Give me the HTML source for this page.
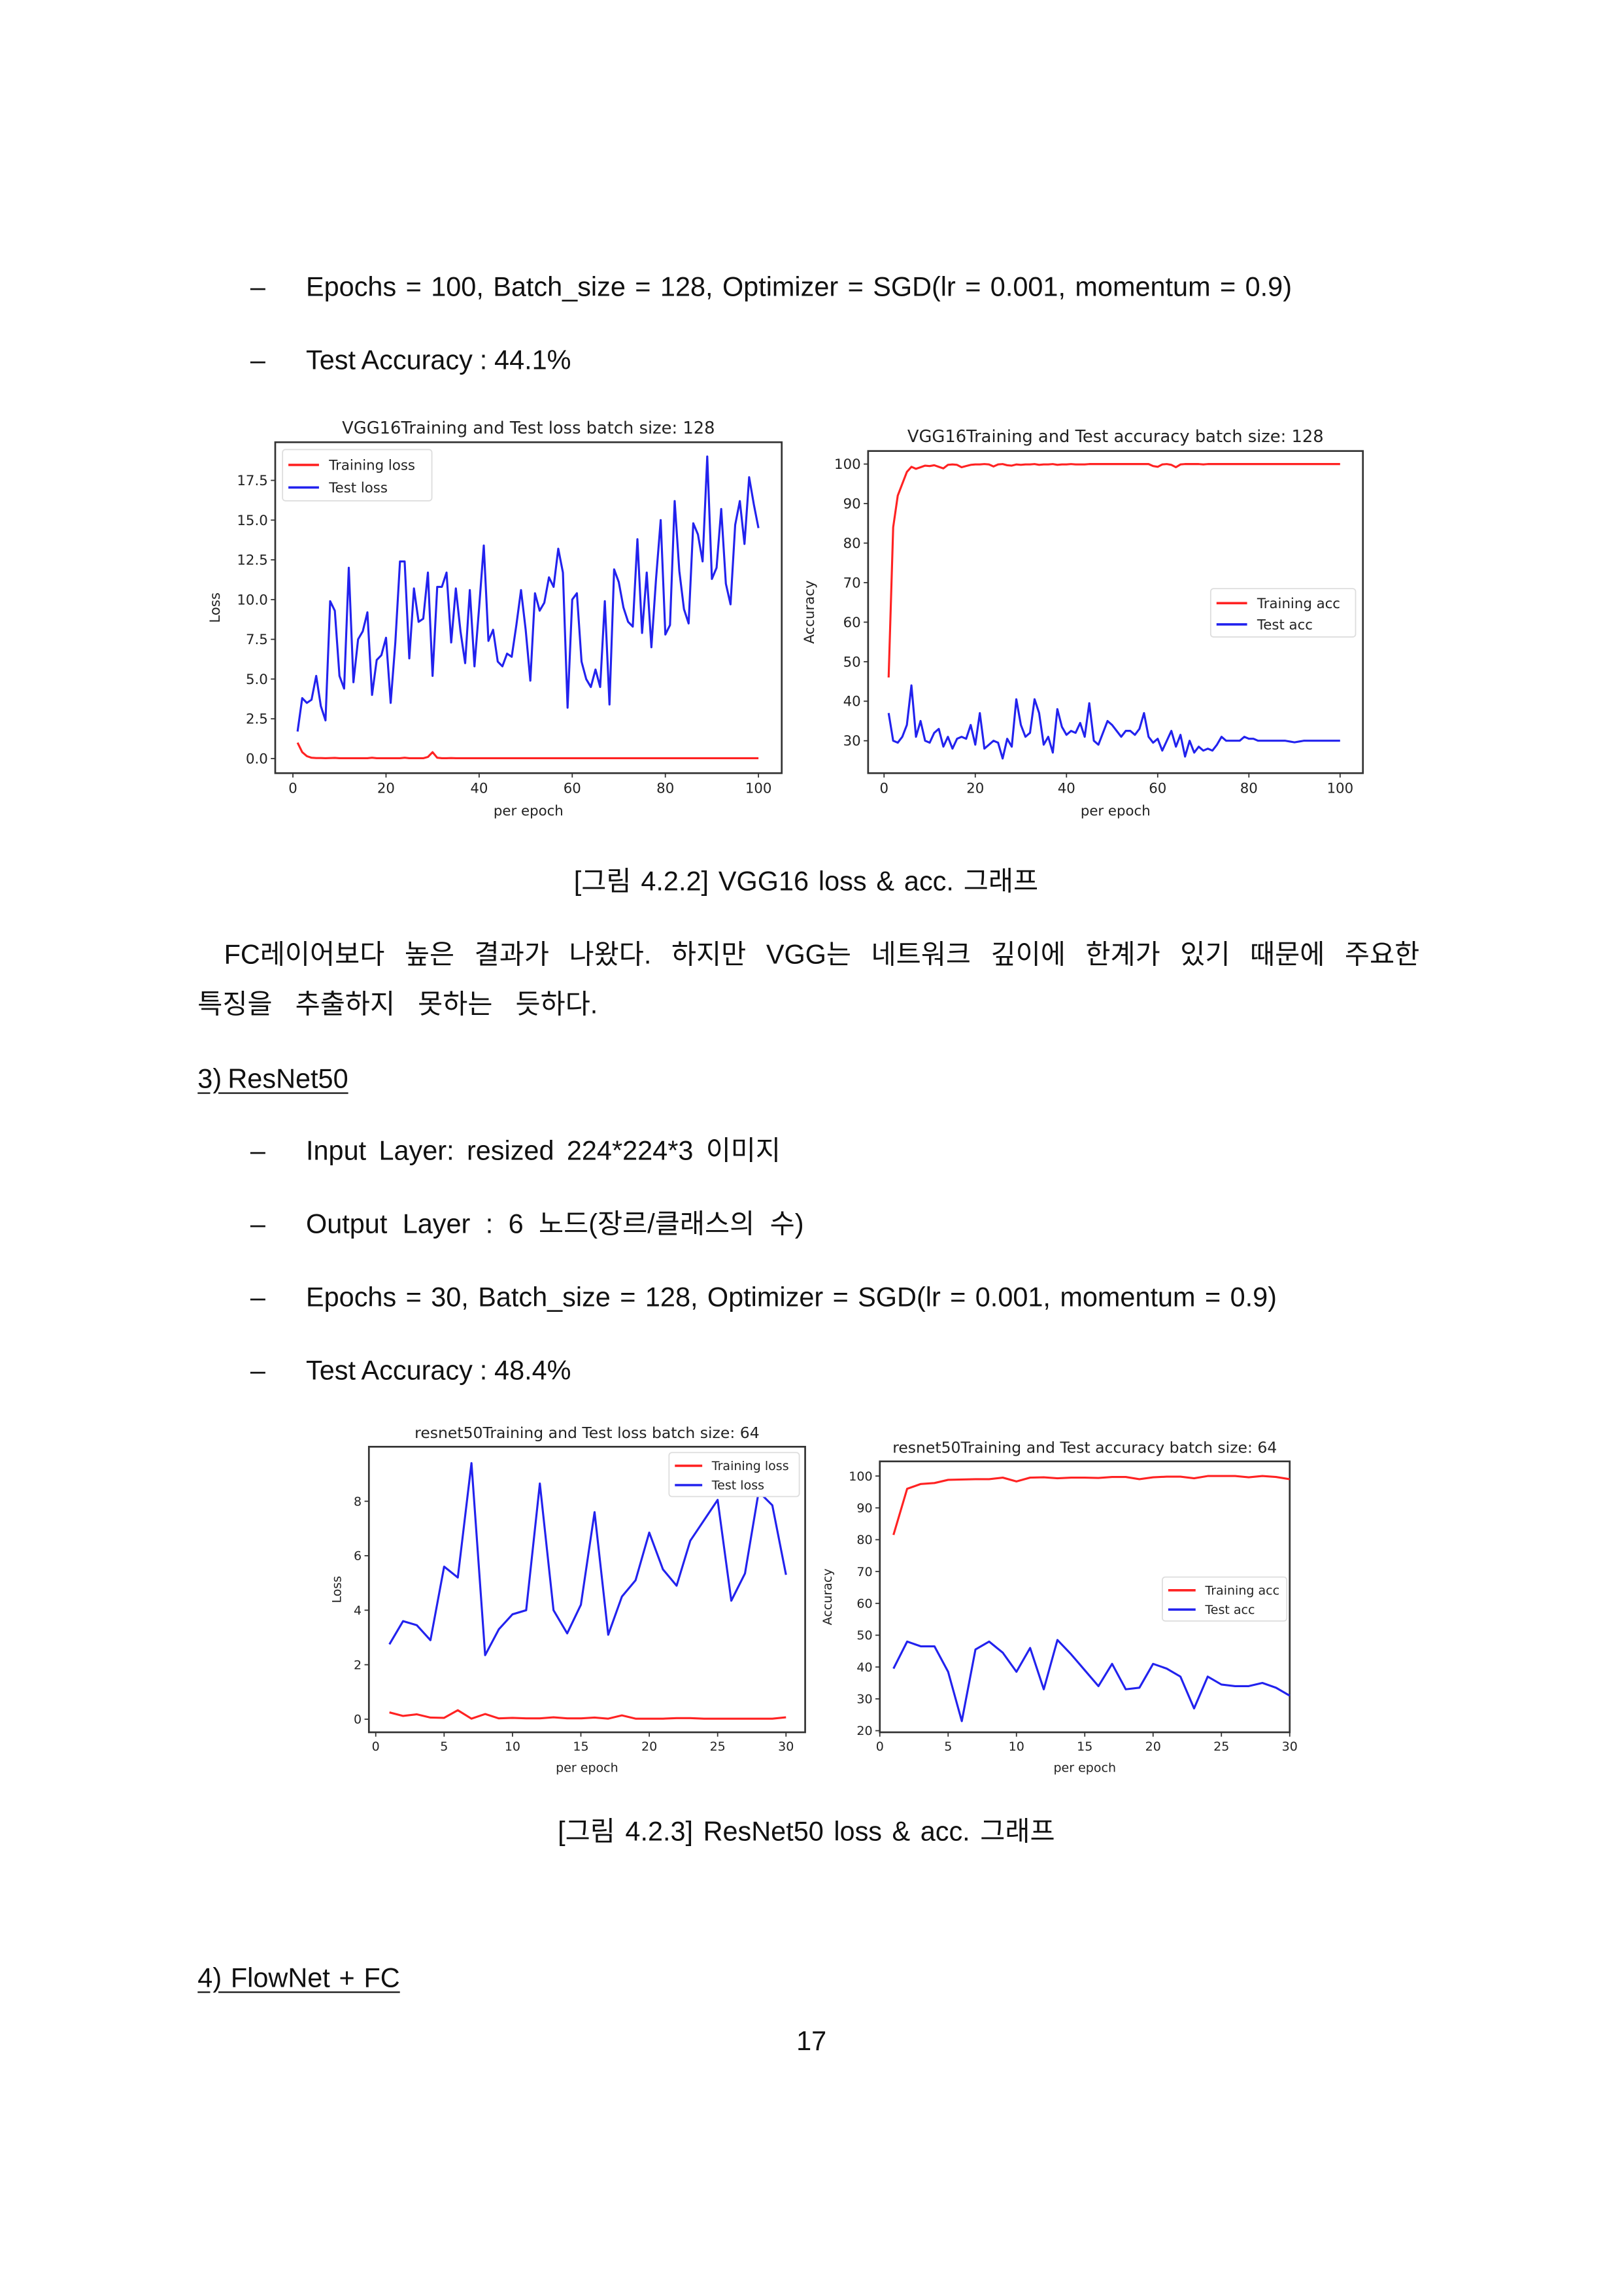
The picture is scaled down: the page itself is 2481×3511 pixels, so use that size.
<!DOCTYPE html>
<html><head><meta charset="utf-8">
<style>
html,body{margin:0;padding:0;background:#fff;}
body{width:2481px;height:3509px;overflow:hidden;position:relative;}
#page{position:absolute;left:0;top:0;width:1108px;height:1568px;transform:scale(2.2392);transform-origin:0 0;}
.t{position:absolute;white-space:nowrap;font-family:"Liberation Sans","Noto Sans CJK KR",sans-serif;font-size:18.5px;color:#111;line-height:1;word-spacing:2px;}
.u{text-decoration:underline;text-underline-offset:3px;}
svg text{font-family:"DejaVu Sans","Liberation Sans",sans-serif;fill:#222;}
</style></head><body>
<div id="page">
<div class="t" style="left:171px;top:187px">–</div>
<div class="t" style="left:209px;top:187px;word-spacing:1.3px">Epochs = 100, Batch_size = 128, Optimizer = SGD(lr = 0.001, momentum = 0.9)</div>
<div class="t" style="left:171px;top:237px">–</div>
<div class="t" style="left:209px;top:237px;word-spacing:-0.3px">Test Accuracy : 44.1%</div>
<div class="t" style="left:392px;top:593px;word-spacing:1.5px">[그림 4.2.2] VGG16 loss &amp; acc. 그래프</div>
<div class="t" style="left:153px;top:643px;word-spacing:8.5px">FC레이어보다 높은 결과가 나왔다. 하지만 VGG는 네트워크 깊이에 한계가 있기 때문에 주요한</div>
<div class="t" style="left:135px;top:677px;word-spacing:10.5px">특징을 추출하지 못하는 듯하다.</div>
<div class="t u" style="left:135px;top:728px;word-spacing:-1px">3) ResNet50</div>
<div class="t" style="left:171px;top:777px">–</div>
<div class="t" style="left:209px;top:777px;word-spacing:3.5px">Input Layer: resized 224*224*3 이미지</div>
<div class="t" style="left:171px;top:827px">–</div>
<div class="t" style="left:209px;top:827px;word-spacing:5.3px">Output Layer : 6 노드(장르/클래스의 수)</div>
<div class="t" style="left:171px;top:877px">–</div>
<div class="t" style="left:209px;top:877px;word-spacing:1.3px">Epochs = 30, Batch_size = 128, Optimizer = SGD(lr = 0.001, momentum = 0.9)</div>
<div class="t" style="left:171px;top:927px">–</div>
<div class="t" style="left:209px;top:927px;word-spacing:-0.3px">Test Accuracy : 48.4%</div>
<div class="t" style="left:381px;top:1242px;word-spacing:1.8px">[그림 4.2.3] ResNet50 loss &amp; acc. 그래프</div>
<div class="t u" style="left:135px;top:1342px;word-spacing:1px">4) FlowNet + FC</div>
<div class="t" style="left:544px;top:1385px">17</div>
<svg id="charts" width="1108" height="1568" viewBox="0 0 1108 1568" style="position:absolute;left:0;top:0"></svg>
</div>
<script>
const vggLossTrain=[1.0,0.4,0.15,0.05,0.03,0.03,0.02,0.03,0.04,0.02,0.02,0.02,0.02,0.02,0.02,0.02,0.05,0.02,0.02,0.02,0.02,0.02,0.02,0.05,0.02,0.02,0.02,0.02,0.1,0.4,0.05,0.02,0.02,0.03,0.02,0.02,0.02,0.02,0.02,0.02,0.02,0.02,0.02,0.02,0.02,0.02,0.02,0.02,0.02,0.02,0.02,0.02,0.02,0.02,0.02,0.02,0.02,0.02,0.02,0.02,0.02,0.02,0.02,0.02,0.02,0.02,0.02,0.02,0.02,0.02,0.02,0.02,0.02,0.02,0.02,0.02,0.02,0.02,0.02,0.02,0.02,0.02,0.02,0.02,0.02,0.02,0.02,0.02,0.02,0.02,0.02,0.02,0.02,0.02,0.02,0.02,0.02,0.02,0.02,0.02];
const vggLossTest=[1.7,3.8,3.5,3.7,5.2,3.3,2.4,9.9,9.3,5.2,4.4,12.0,4.8,7.5,8.0,9.2,4.0,6.2,6.5,7.6,3.5,7.3,12.4,12.4,6.3,10.7,8.6,8.8,11.7,5.2,10.8,10.8,11.7,7.3,10.7,8.0,6.0,10.6,5.8,9.5,13.4,7.4,8.1,6.1,5.8,6.6,6.4,8.4,10.6,8.1,4.9,10.4,9.3,9.8,11.4,10.8,13.2,11.7,3.2,10.0,10.4,6.1,5.0,4.5,5.6,4.5,9.9,3.4,11.9,11.1,9.5,8.6,8.3,13.8,7.9,11.7,7.0,11.3,15.0,7.8,8.4,16.2,11.8,9.4,8.5,14.8,14.1,12.4,19.0,11.3,12.0,15.7,11.0,9.7,14.7,16.2,13.5,17.7,16.0,14.5];
const vggAccTrain=[46,84,92,95,98,99.3,98.8,99.2,99.6,99.5,99.7,99.3,98.9,99.8,99.9,99.8,99.2,99.5,99.8,99.9,99.9,100,99.9,99.4,99.9,100,99.7,99.6,99.9,99.8,99.9,99.9,100,99.8,99.9,99.9,100,99.8,99.9,99.9,100,99.9,99.9,99.9,100,100,100,100,100,100,100,100,100,100,100,100,100,100,99.5,99.3,99.9,100,99.8,99.2,99.9,100,100,100,100,99.9,100,100,100,100,100,100,100,100,100,100,100,100,100,100,100,100,100,100,100,100,100,100,100,100,100,100,100,100,100,100];
const vggAccTest=[37,30,29.5,31,34,44,31,35,30,29.5,32,33,28.5,31,28,30.5,31,30.5,34,29,37,28,29,30,29.5,25.5,30.5,28.5,40.5,34,31,32,40.5,37,29,31,27,38,33.5,31.5,32.5,32,34.5,31,39.5,30,29,32,35,34,32.5,31,32.5,32.5,31.5,33,37,31,29.5,30.5,27.5,30,32.5,28.5,31.5,26,30,27,28.5,27.5,28,27.5,29,31,30,30,30,30,31,30.5,30.5,30,30,30,30,30,30,30,29.8,29.6,29.8,30,30,30,30,30,30,30,30,30];
const resLossTrain=[0.25,0.12,0.18,0.06,0.05,0.33,0.02,0.19,0.03,0.05,0.03,0.03,0.07,0.03,0.03,0.06,0.02,0.14,0.02,0.02,0.02,0.04,0.04,0.02,0.02,0.02,0.02,0.02,0.02,0.07];
const resLossTest=[2.75,3.6,3.45,2.9,5.6,5.2,9.4,2.35,3.3,3.85,4.0,8.65,4.0,3.15,4.2,7.6,3.1,4.5,5.1,6.85,5.5,4.9,6.55,7.3,8.05,4.35,5.35,8.35,7.85,5.3];
const resAccTrain=[81.5,96,97.5,97.8,98.8,98.9,99,99,99.5,98.3,99.5,99.6,99.3,99.5,99.5,99.4,99.7,99.7,99,99.6,99.8,99.8,99.3,100,100,100,99.6,100,99.7,99];
const resAccTest=[39.5,48,46.5,46.5,38.5,23,45.5,48,44.5,38.5,46,33,48.5,44,39,34,41,33,33.5,41,39.5,37,27,37,34.5,34,34,35,33.5,31];
const vggXTicks=[0,20,40,60,80,100];
const vggLossYTicks=[0,2.5,5,7.5,10,12.5,15,17.5];
const vggAccYTicks=[30,40,50,60,70,80,90,100];
const resXTicks=[0,5,10,15,20,25,30];
const resLossYTicks=[0,2,4,6,8];
const resAccYTicks=[20,30,40,50,60,70,80,90,100];

const NS='http://www.w3.org/2000/svg';
const root=document.getElementById('charts');
function mk(tag,attrs,parent){const e=document.createElementNS(NS,tag);for(const k in attrs)e.setAttribute(k,attrs[k]);(parent||root).appendChild(e);return e;}
function chart(c){
  const g=mk('g',{});
  
  
  const sx=v=>c.box[0]+(v-c.xd[0])/(c.xd[1]-c.xd[0])*(c.box[2]-c.box[0]);
  const sy=v=>c.box[3]-(v-c.yd[0])/(c.yd[1]-c.yd[0])*(c.box[3]-c.box[1]);
  const r=mk('rect',{x:c.box[0],y:c.box[1],width:c.box[2]-c.box[0],height:c.box[3]-c.box[1],fill:'#fff',stroke:'#333','stroke-width':1.2},g);
  
  
  const fs=c.fs;
  c.xt.forEach(v=>{const x=sx(v);mk('line',{x1:x,x2:x,y1:c.box[3],y2:c.box[3]+3,stroke:'#333','stroke-width':0.8},g);
    const t=mk('text',{x:x,y:c.box[3]+fs+4,'font-size':fs,'text-anchor':'middle'},g);t.textContent=v;
    
    });
  c.yt.forEach(v=>{const y=sy(v);mk('line',{x1:c.box[0]-3,x2:c.box[0],y1:y,y2:y,stroke:'#333','stroke-width':0.8},g);
    const t=mk('text',{x:c.box[0]-5,y:y+fs*0.35,'font-size':fs,'text-anchor':'end'},g);t.textContent=c.yfmt?c.yfmt(v):v;
    
    });
  const tt=mk('text',{x:(c.box[0]+c.box[2])/2,y:c.box[1]-6,'font-size':fs+2,'text-anchor':'middle'},g);tt.textContent=c.title;
  
  
  const xl=mk('text',{x:(c.box[0]+c.box[2])/2,y:c.box[3]+2*fs+10,'font-size':fs,'text-anchor':'middle'},g);xl.textContent='per epoch';
  
  
  const yx=c.ylx,yy=(c.box[1]+c.box[3])/2;
  const yl=mk('text',{x:yx,y:yy,'font-size':fs,'text-anchor':'middle',transform:`rotate(-90 ${yx} ${yy})`},g);yl.textContent=c.ylabel;
  
  
  c.series.forEach(s=>{
    const d=s.data.map((v,i)=>(i?'L':'M')+sx(i+1).toFixed(2)+' '+sy(v).toFixed(2)).join(' ');
    const p=mk('path',{d:d,fill:'none',stroke:s.color,'stroke-width':1.4,'stroke-linejoin':'round'},g);
    
    
  });
  const L=c.leg;
  const lg=mk('g',{},g);
  
  
  mk('rect',{x:L[0],y:L[1],width:L[2],height:L[3],fill:'#fff',stroke:'#ddd','stroke-width':0.8,rx:2},lg);
  c.series.forEach((s,i)=>{const y=L[1]+L[3]*(0.3+0.44*i);
    mk('line',{x1:L[0]+4,x2:L[0]+4+fs*2.2,y1:y,y2:y,stroke:s.color,'stroke-width':1.6},lg);
    const t=mk('text',{x:L[0]+8+fs*2.5,y:y+fs*0.35,'font-size':fs},lg);t.textContent=s.label;
    
    });
}
chart({name:'vgg-loss-chart',box:[188,302,534,528],xd:[-3.8,105],yd:[-0.92,19.9],xt:vggXTicks,yt:vggLossYTicks,yfmt:v=>v.toFixed(1),fs:9.5,
  title:'VGG16Training and Test loss  batch size: 128',ylabel:'Loss',ylx:150,leg:[193,307,102,35],
  series:[{name:'training-loss-line',label:'Training loss',color:'#f22',data:vggLossTrain},{name:'test-loss-line',label:'Test loss',color:'#22e',data:vggLossTest}]});
chart({name:'vgg-accuracy-chart',box:[593,308,931,528],xd:[-3.5,105],yd:[21.8,103.3],xt:vggXTicks,yt:vggAccYTicks,fs:9.5,
  title:'VGG16Training and Test accuracy  batch size: 128',ylabel:'Accuracy',ylx:556,leg:[827,402,99,33],
  series:[{name:'training-acc-line',label:'Training acc',color:'#f22',data:vggAccTrain},{name:'test-acc-line',label:'Test acc',color:'#22e',data:vggAccTest}]});
chart({name:'resnet-loss-chart',box:[252,988,550,1183],xd:[-0.5,31.4],yd:[-0.48,10],xt:resXTicks,yt:resLossYTicks,fs:8.5,
  title:'resnet50Training and Test loss  batch size: 64',ylabel:'Loss',ylx:233,leg:[457,992,89,30],
  series:[{name:'training-loss-line',label:'Training loss',color:'#f22',data:resLossTrain},{name:'test-loss-line',label:'Test loss',color:'#22e',data:resLossTest}]});
chart({name:'resnet-accuracy-chart',box:[601,998,881,1183],xd:[0,30],yd:[19.5,104.6],xt:resXTicks,yt:resAccYTicks,fs:8.5,
  title:'resnet50Training and Test accuracy  batch size: 64',ylabel:'Accuracy',ylx:568,leg:[794,1077,85,30],
  series:[{name:'training-acc-line',label:'Training acc',color:'#f22',data:resAccTrain},{name:'test-acc-line',label:'Test acc',color:'#22e',data:resAccTest}]});
</script>
</body></html>
